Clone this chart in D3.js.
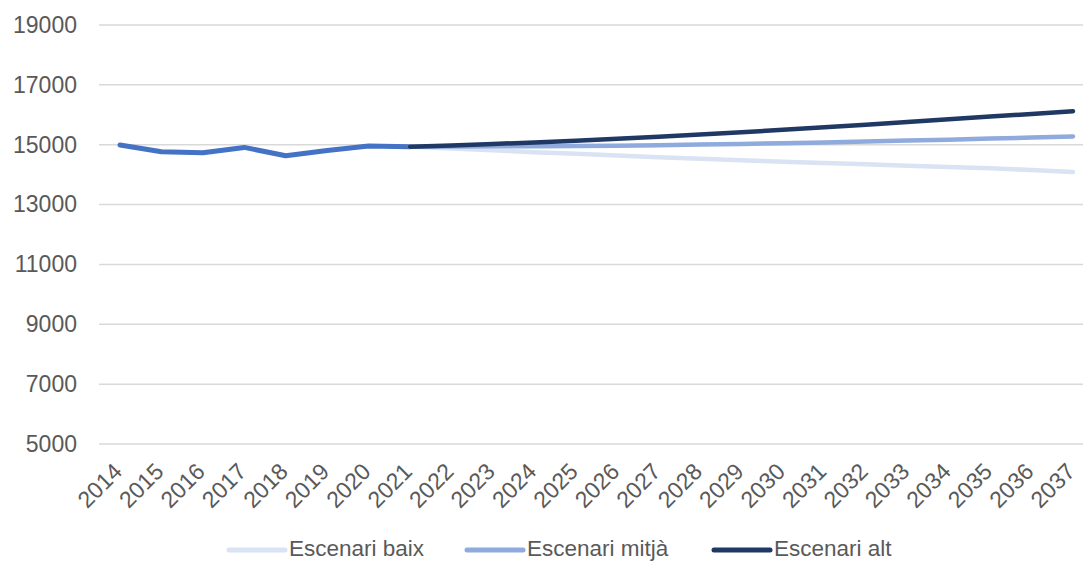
<!DOCTYPE html>
<html>
<head>
<meta charset="utf-8">
<script src="https://cdn.jsdelivr.net/npm/d3@7"></script>
<style>
  html, body { margin: 0; padding: 0; background: #fff; }
  svg { display: block; font-family: "Liberation Sans", Arial, sans-serif; }
</style>
</head>
<body>
<svg id="chart" width="1083" height="562"></svg>
<script>
// Years shown on the category axis
const years = d3.range(2014, 2038);

// Observed series 2014–2021
const histYears = [2014, 2015, 2016, 2017, 2018, 2019, 2020, 2021];
const histValues = [14990, 14766, 14733, 14910, 14633, 14810, 14957, 14933];

// Projection years 2021–2037
const projYears = d3.range(2021, 2038);
const baixValues = [14933, 14872, 14812, 14752, 14694, 14636, 14580, 14528, 14480, 14434, 14389, 14345, 14301, 14258, 14216, 14152, 14090];
const mitjaValues = [14933, 14938, 14945, 14952, 14960, 14968, 14985, 15004, 15025, 15050, 15078, 15108, 15138, 15170, 15204, 15240, 15277];
const altValues = [14933, 14976, 15024, 15078, 15136, 15196, 15264, 15338, 15416, 15498, 15582, 15670, 15760, 15850, 15940, 16030, 16122];

// Value axis ticks
const yTicks = [5000, 7000, 9000, 11000, 13000, 15000, 17000, 19000];

// Legend entries
const legendLabels = ["Escenari baix", "Escenari mitjà", "Escenari alt"];

const colors = {
  hist: "#4472C4",
  baix: "#DAE3F3",
  mitja: "#8FAADC",
  alt: "#203864",
  grid: "#D9D9D9",
  text: "#595959"
};

const svg = d3.select("#chart");
const margin = { left: 99, right: 0, top: 25, bottom: 118 };
const W = 1083, H = 562;

const x = d3.scalePoint().domain(years).range([120, 1073]);
const y = d3.scaleLinear().domain([5000, 19000]).range([H - margin.bottom, margin.top]);

// Horizontal gridlines
svg.append("g")
  .selectAll("line")
  .data(yTicks)
  .join("line")
  .attr("x1", margin.left)
  .attr("x2", W)
  .attr("y1", d => y(d))
  .attr("y2", d => y(d))
  .attr("stroke", colors.grid)
  .attr("stroke-width", 1.5);

// Value axis labels
const yAxis = svg.append("g")
  .attr("transform", `translate(${margin.left},0)`)
  .call(d3.axisLeft(y).tickValues(yTicks).tickSize(0).tickPadding(22).tickFormat(d3.format("d")));
yAxis.select(".domain").remove();
yAxis.selectAll("text")
  .attr("fill", colors.text)
  .style("font-size", "23px")
  .style("font-family", "'Liberation Sans', Arial, sans-serif");

// Year labels, rotated
const xAxis = svg.append("g")
  .attr("transform", `translate(0,${y(5000)})`)
  .call(d3.axisBottom(x).tickSize(0).tickPadding(0));
xAxis.select(".domain").remove();
xAxis.selectAll("text")
  .attr("fill", colors.text)
  .style("font-size", "23px")
  .style("font-family", "'Liberation Sans', Arial, sans-serif")
  .attr("text-anchor", "end")
  .attr("dy", null)
  .attr("y", 0)
  .attr("transform", "translate(3,29) rotate(-45)");

const line = d3.line()
  .x(d => x(d[0]))
  .y(d => y(d[1]));

function drawSeries(xs, vs, color, width) {
  svg.append("path")
    .datum(d3.zip(xs, vs))
    .attr("d", line)
    .attr("fill", "none")
    .attr("stroke", color)
    .attr("stroke-width", width)
    .attr("stroke-linecap", "round")
    .attr("stroke-linejoin", "round");
}

drawSeries(histYears, histValues, colors.hist, 5);
drawSeries(projYears, baixValues, colors.baix, 4.5);
drawSeries(projYears, mitjaValues, colors.mitja, 4.5);
drawSeries(projYears, altValues, colors.alt, 4.5);

// Legend
const legendItems = [
  { label: legendLabels[0], color: colors.baix, x: 229 },
  { label: legendLabels[1], color: colors.mitja, x: 467 },
  { label: legendLabels[2], color: colors.alt, x: 714 }
];
const lg = svg.append("g").attr("transform", "translate(0,550)");
const item = lg.selectAll("g").data(legendItems).join("g")
  .attr("transform", d => `translate(${d.x},0)`);
item.append("line")
  .attr("x1", 0).attr("x2", 56)
  .attr("y1", 0).attr("y2", 0)
  .attr("stroke", d => d.color)
  .attr("stroke-width", 5)
  .attr("stroke-linecap", "round");
item.append("text")
  .attr("x", 60)
  .attr("y", 6)
  .attr("fill", colors.text)
  .style("font-size", "22.5px")
  .text(d => d.label);
</script>
</body>
</html>
